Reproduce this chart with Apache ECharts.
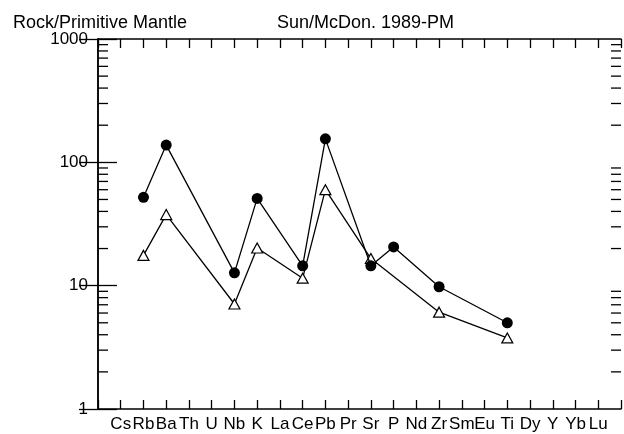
<!DOCTYPE html>
<html>
<head>
<meta charset="utf-8">
<script src="https://cdn.jsdelivr.net/npm/echarts@6/dist/echarts.min.js"></script>
<style>
  html, body { margin: 0; padding: 0; background: #fff; }
  #chart { width: 624px; height: 434px; }
</style>
</head>
<body>
<div id="chart"></div>
<script>
// element order on the spider diagram
var elements = ["Cs", "Rb", "Ba", "Th", "U", "Nb", "K", "La", "Ce", "Pb", "Pr",
  "Sr", "P", "Nd", "Zr", "Sm", "Eu", "Ti", "Dy", "Y", "Yb", "Lu"];
// sample 1 (filled circles), null = not analysed
var sampleCircle = [null, 52, 138, null, null, 12.7, 51, null, 14.5, 155, null,
  14.5, 20.6, null, 9.8, null, null, 5.0, null, null, null, null];
// sample 2 (open triangles)
var sampleTriangle = [null, 17.6, 37.7, null, null, 7.1, 20.2, null, 11.5, 60, null,
  16.6, null, null, 6.1, null, null, 3.77, null, null, null, null];
var yTicks = [1, 10, 100, 1000];
// log minor ticks 2..9 in each decade
var minorTicks = [2, 3, 4, 5, 6, 7, 8, 9, 20, 30, 40, 50, 60, 70, 80, 90,
  200, 300, 400, 500, 600, 700, 800, 900];

var font = "Liberation Sans, Arial, sans-serif";
var chart = echarts.init(document.getElementById("chart"));

function toPoints(vals) {
  return vals.map(function (v, i) { return [i + 1, v]; })
    .filter(function (d) { return d[1] != null; });
}

var xBase = {
  type: "value",
  min: 0,
  max: 23,
  interval: 1,
  splitLine: { show: false },
  axisLine: { show: true, lineStyle: { color: "#000", width: 1.5 } },
  axisTick: { show: true, inside: true, length: 9, lineStyle: { color: "#000", width: 1.3 } }
};
var yBase = {
  type: "log",
  logBase: 10,
  min: 1,
  max: 1000,
  splitLine: { show: false },
  axisLine: { show: true, lineStyle: { color: "#000", width: 1.5 } },
  axisTick: { show: true, inside: true, length: 19, lineStyle: { color: "#000", width: 1.3 } }
};

var option = {
  backgroundColor: "#fff",
  animation: false,
  title: [
    { text: "Rock/Primitive Mantle", left: 8, top: 9,
      textStyle: { fontFamily: font, fontSize: 18, fontWeight: "normal", color: "#000" } },
    { text: "Sun/McDon. 1989-PM", left: 272, top: 9,
      textStyle: { fontFamily: font, fontSize: 18, fontWeight: "normal", color: "#000" } }
  ],
  grid: { left: 98, right: -5, top: 39, bottom: 25 },
  xAxis: [
    Object.assign({}, xBase, {
      position: "bottom",
      axisLabel: {
        fontFamily: font, fontSize: 17, color: "#000", margin: 7,
        formatter: function (v) {
          return (v >= 1 && v <= elements.length && v % 1 === 0) ? elements[v - 1] : "";
        }
      }
    }),
    Object.assign({}, xBase, { position: "top", axisLabel: { show: false } })
  ],
  yAxis: [
    Object.assign({}, yBase, {
      position: "left",
      axisLabel: { fontFamily: font, fontSize: 17, color: "#000", margin: 10,
        formatter: function (v) { return yTicks.indexOf(v) >= 0 ? String(v) : ""; } }
    }),
    Object.assign({}, yBase, { position: "right", axisLabel: { show: false } })
  ],
  series: [
    {
      // minor log ticks on both vertical axes
      type: "custom",
      silent: true,
      clip: false,
      data: minorTicks.map(function (v) { return [0, v]; }),
      renderItem: function (params, api) {
        var v = api.value(1);
        var p = api.coord([0, v]);
        var q = api.coord([23, v]);
        var st = { stroke: "#000", lineWidth: 1.3 };
        return {
          type: "group",
          children: [
            { type: "line", shape: { x1: p[0], y1: p[1], x2: p[0] + 10, y2: p[1] }, style: st },
            { type: "line", shape: { x1: q[0] - 10, y1: q[1], x2: q[0], y2: q[1] }, style: st }
          ]
        };
      }
    },
    {
      name: "triangle",
      type: "line",
      data: toPoints(sampleTriangle),
      symbol: "triangle",
      symbolSize: [11, 10],
      showAllSymbol: true,
      lineStyle: { color: "#000", width: 1.3 },
      itemStyle: { color: "#fff", borderColor: "#000", borderWidth: 1.2 },
      z: 3
    },
    {
      name: "circle",
      type: "line",
      data: toPoints(sampleCircle),
      symbol: "circle",
      symbolSize: 11,
      showAllSymbol: true,
      lineStyle: { color: "#000", width: 1.3 },
      itemStyle: { color: "#000", borderColor: "#000", borderWidth: 0 },
      z: 4
    }
  ]
};
chart.setOption(option);
</script>
</body>
</html>
